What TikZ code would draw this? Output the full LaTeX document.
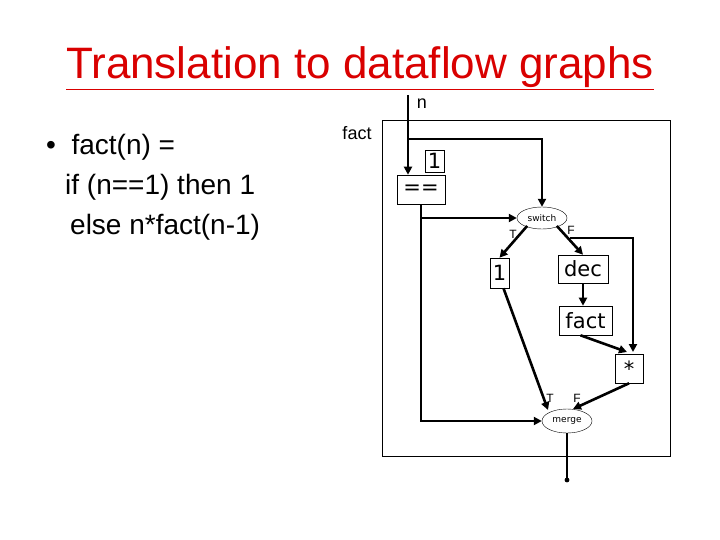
\documentclass[tikz,border=0pt]{standalone}
\usepackage{fontspec}
\setmainfont{Liberation Sans}
\newfontfamily\dv{DejaVu Sans}
\usetikzlibrary{arrows.meta,shapes.geometric}
\begin{document}
\begin{tikzpicture}[x=1pt,y=-1pt,
  bx/.style={draw,semithick,minimum width=#1,inner sep=0pt,font=\dv\fontsize{21}{21}\selectfont},
  el/.style={draw,ellipse,inner sep=0pt,font=\dv\fontsize{9}{9}\selectfont},
  ar/.style={line width=2.6pt,-{Triangle[length=8pt,width=8pt]}},
  ln/.style={line width=2.6pt},
  lb/.style={font=\fontsize{12}{12}\selectfont}]
\useasboundingbox (0,0) rectangle (720,540);
\node[text=red!85!black,font=\fontsize{44}{44}\selectfont] (title) at (360,68) {\underline{Translation to dataflow graphs}};
\node[anchor=north west,align=left,font=\fontsize{28}{40}\selectfont,inner sep=0pt] (code) at (46,134) {•\ \ fact(n) =\\\hspace*{19pt}if (n==1) then 1\\\hspace*{24pt}else n*fact(n-1)};
\draw[semithick] (382,120) rectangle (670,456);
\node[font=\fontsize{18}{18}\selectfont] (factlbl) at (357,133) {fact};
\node[font=\fontsize{18}{18}\selectfont] (nlbl) at (422,104) {n};
\coordinate (ntop) at (408,95);
\node[bx=48pt,minimum height=29pt] (eq) at (421,189.5) {==};
\node[bx=19pt,minimum height=22pt] (one) at (434.5,161) {1};
\node[el,minimum width=50pt,minimum height=22pt] (sw) at (542,218) {switch};
\node[bx=19pt,minimum height=30pt] (one2) at (499.5,273) {1};
\node[bx=50pt,minimum height=28pt] (dec) at (583,269) {dec};
\node[bx=53pt,minimum height=29pt] (fact) at (585.5,320.5) {fact};
\node[bx=28pt,minimum height=29pt] (mul) at (629,368.5) {*};
\node[el,minimum width=50pt,minimum height=24pt] (mg) at (567,421) {merge};
\coordinate (out) at (567,480);
\node[lb] (tl) at (513,234) {T};
\node[lb] (fl) at (571,230) {F};
\node[lb] (tl2) at (550,398) {T};
\node[lb] (fl2) at (577,398) {F};
\draw[ar] (ntop) -- (eq.north -| ntop);
\draw[ar] (408,139) -| (sw.north);
\draw[ar] (eq.south) |- (sw.west);
\draw[ar] (eq.south) |- (mg.west);
\draw[ar] (sw.south west) ++(3,0) -- (one2.north);
\draw[ar] (sw.south east) ++(-3,0) -- (dec.north);
\draw[ar] (570,238) -| (633,352);
\draw[ar] (dec.south) -- (fact.north -| dec.south);
\draw[ar] (one2.south) ++(4,0) -- (548,410);
\draw[ar] (fact.south) ++(-5,0) -- (627,352);
\draw[ar] (mul.south) -- (573,409);
\draw[ln] (mg.south) -- (out);
\fill (out) circle (2.4pt);
\end{tikzpicture}
\end{document}
